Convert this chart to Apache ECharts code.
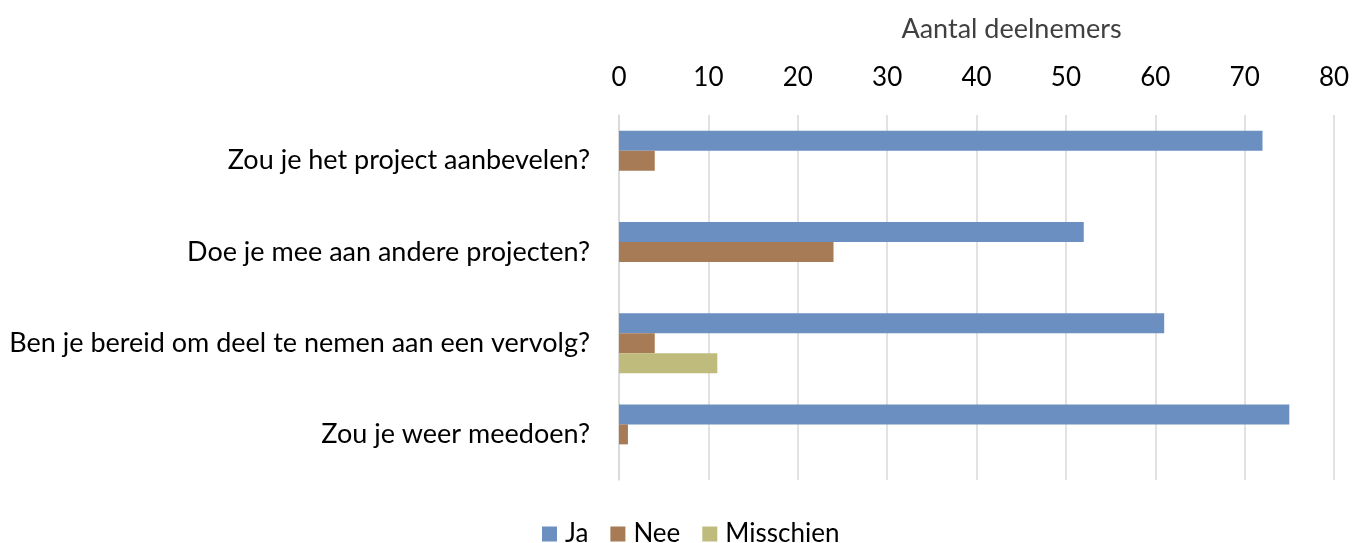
<!DOCTYPE html>
<html>
<head>
<meta charset="utf-8">
<script src="https://cdn.jsdelivr.net/npm/echarts@6/dist/echarts.min.js"></script>
<style>
  html, body { margin: 0; padding: 0; background: #fff; }
  #chart { width: 1364px; height: 543px; }
</style>
</head>
<body>
<div id="chart"></div>
<script>
// vragen en antwoorden
var vragen = [
  "Zou je het project aanbevelen?",
  "Doe je mee aan andere projecten?",
  "Ben je bereid om deel te nemen aan een vervolg?",
  "Zou je weer meedoen?"
];
var ja = [72, 52, 61, 75];
var nee = [4, 24, 4, 1];
var misschien = [0, 0, 11, 0];
var ticks = [0, 10, 20, 30, 40, 50, 60, 70, 80];

var font = "Lato";
var myChart = echarts.init(document.getElementById("chart"));

function serie(naam, data, kleur) {
  return {
    name: naam,
    type: "bar",
    data: data,
    barWidth: 20,
    barGap: "0%",
    itemStyle: { color: kleur },
    emphasis: { disabled: true }
  };
}

var option = {
  animation: false,
  textStyle: { fontFamily: font },
  grid: { left: 619, right: 30, top: 115, bottom: 63 },
  legend: {
    left: 537,
    top: 516,
    itemWidth: 15,
    itemHeight: 15,
    itemGap: 22,
    icon: "rect",
    textStyle: { fontSize: 26, color: "#000", fontFamily: font, padding: [0, 0, 0, 3] },
    data: ["Ja", "Nee", "Misschien"]
  },
  xAxis: {
    type: "value",
    position: "top",
    min: ticks[0],
    max: ticks[ticks.length - 1],
    interval: 10,
    name: "Aantal deelnemers",
    nameLocation: "middle",
    nameGap: 72,
    nameTextStyle: { fontSize: 27, color: "#404040", fontFamily: font, padding: [0, 0, 0, 70] },
    axisLine: { show: false },
    axisTick: { show: false },
    axisLabel: { fontSize: 26, color: "#000", margin: 24, fontFamily: font },
    splitLine: { lineStyle: { color: "#d9d9d9", width: 1.5 } }
  },
  yAxis: {
    type: "category",
    inverse: true,
    data: vragen,
    axisTick: { show: false },
    axisLine: { lineStyle: { color: "#d9d9d9", width: 1.5 } },
    axisLabel: { fontSize: 27, color: "#000", margin: 29, fontFamily: font }
  },
  series: [
    serie("Ja", ja, "#6a8fc0"),
    serie("Nee", nee, "#a67b55"),
    serie("Misschien", misschien, "#bfbb7d")
  ]
};

myChart.setOption(option);
</script>
</body>
</html>
